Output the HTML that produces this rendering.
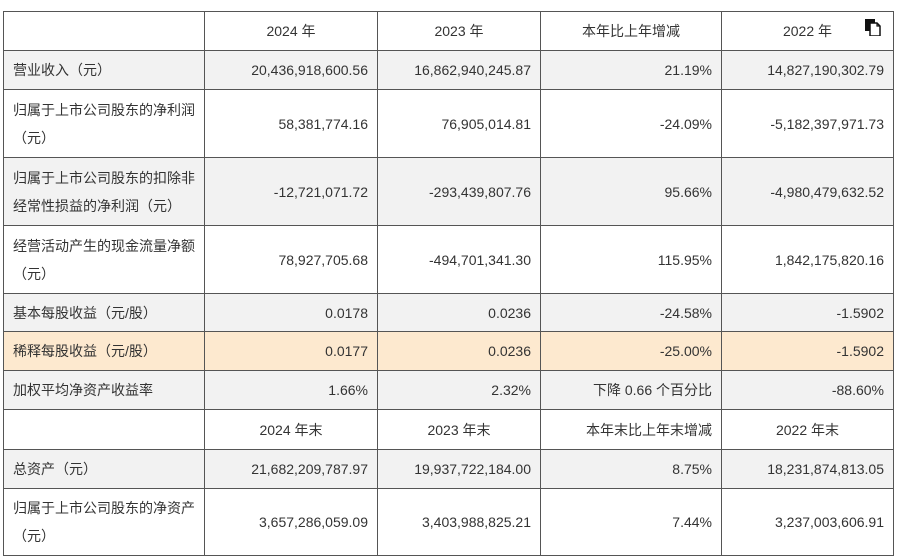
<!DOCTYPE html>
<html><head><meta charset="utf-8"><style>
body{margin:0;background:#fff;width:900px;height:559px;overflow:hidden}
table{position:absolute;left:3px;top:11px;border-collapse:collapse;table-layout:fixed;width:890px;font-family:"Liberation Sans","Noto Sans CJK SC",sans-serif;font-size:14px;color:#333}
td{border:1px solid #555;padding:0 9px;text-align:right;line-height:28px;vertical-align:middle;overflow:hidden}
td:first-child{text-align:left;padding-left:9px;padding-right:8px}
tr.g td{background:#f2f2f2}
tr.h td{background:#fde9cf}
.c{text-align:center!important}
.icon{position:absolute;left:865px;top:19px;width:16px;height:17px}
</style></head><body>
<table>
<colgroup><col style="width:201px"><col style="width:173px"><col style="width:163px"><col style="width:181px"><col style="width:172px"></colgroup>
<tr style="height:39px"><td></td><td class="c">2024 年</td><td class="c">2023 年</td><td class="c">本年比上年增减</td><td class="c">2022 年</td></tr>
<tr class="g" style="height:39px"><td>营业收入（元）</td><td>20,436,918,600.56</td><td>16,862,940,245.87</td><td>21.19%</td><td>14,827,190,302.79</td></tr>
<tr style="height:68px"><td>归属于上市公司股东的净利润（元）</td><td>58,381,774.16</td><td>76,905,014.81</td><td>-24.09%</td><td>-5,182,397,971.73</td></tr>
<tr class="g" style="height:68px"><td>归属于上市公司股东的扣除非<br>经常性损益的净利润（元）</td><td>-12,721,071.72</td><td>-293,439,807.76</td><td>95.66%</td><td>-4,980,479,632.52</td></tr>
<tr style="height:68px"><td>经营活动产生的现金流量净额<br>（元）</td><td>78,927,705.68</td><td>-494,701,341.30</td><td>115.95%</td><td>1,842,175,820.16</td></tr>
<tr class="g" style="height:38px"><td>基本每股收益（元/股）</td><td>0.0178</td><td>0.0236</td><td>-24.58%</td><td>-1.5902</td></tr>
<tr class="h" style="height:39px"><td>稀释每股收益（元/股）</td><td>0.0177</td><td>0.0236</td><td>-25.00%</td><td>-1.5902</td></tr>
<tr class="g" style="height:39px"><td>加权平均净资产收益率</td><td>1.66%</td><td>2.32%</td><td>下降 0.66 个百分比</td><td>-88.60%</td></tr>
<tr style="height:40px"><td></td><td class="c">2024 年末</td><td class="c">2023 年末</td><td style="text-align:right">本年末比上年末增减</td><td class="c">2022 年末</td></tr>
<tr class="g" style="height:39px"><td>总资产（元）</td><td>21,682,209,787.97</td><td>19,937,722,184.00</td><td>8.75%</td><td>18,231,874,813.05</td></tr>
<tr style="height:67px"><td>归属于上市公司股东的净资产<br>（元）</td><td>3,657,286,059.09</td><td>3,403,988,825.21</td><td>7.44%</td><td>3,237,003,606.91</td></tr>
</table>
<svg class="icon" viewBox="0 0 16 17"><rect x="0" y="0" width="10" height="12" fill="#111"/><path d="M5 4h7l3 3v10H5z" fill="#fff" stroke="#111" stroke-width="1.5"/><path d="M12 4v3h3" fill="none" stroke="#111" stroke-width="1.2"/></svg>
</body></html>
